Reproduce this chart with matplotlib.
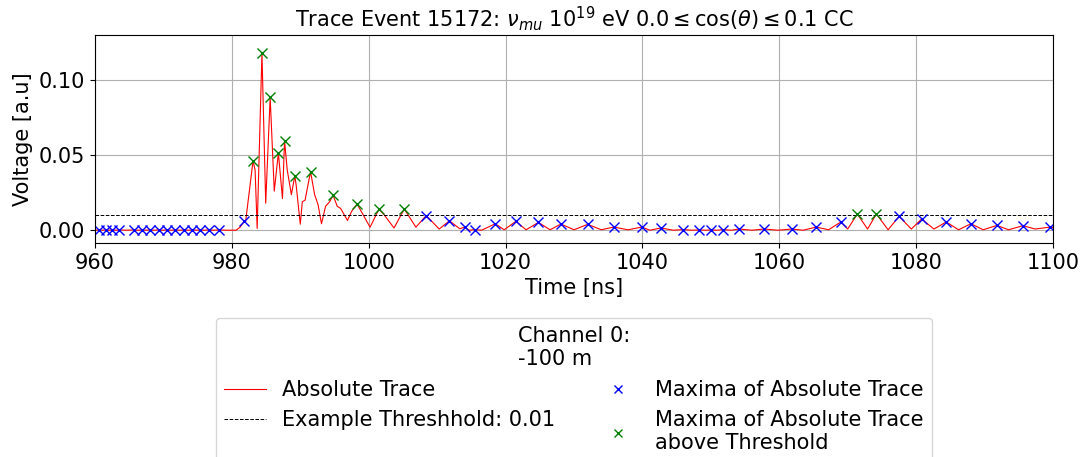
from matplotlib import pyplot as plt
import numpy as np

threshold = 0.01

# local maxima of the absolute trace (time in ns, voltage in a.u.)
max_time = [960.6, 961.6, 962.5, 963.5, 965.7, 966.9, 968.0, 969.3, 970.5, 971.7,
            973.0, 974.2, 975.3, 976.6, 978.1,
            981.8, 983.1, 984.4, 985.6, 986.8, 987.7, 989.2, 991.5, 994.8, 998.3,
            1001.5, 1005.2, 1008.4, 1011.8, 1014.0, 1015.5, 1018.5, 1021.5, 1024.8,
            1028.1, 1032.0, 1035.8, 1039.9, 1042.7, 1046.0, 1048.3, 1050.0, 1051.8,
            1054.1, 1057.8, 1061.8, 1065.4, 1069.0, 1071.4, 1074.2, 1077.5, 1080.8,
            1084.4, 1088.0, 1091.8, 1095.6, 1099.6]
max_volt = [0.0002, 0.0002, 0.0002, 0.0002, 0.0002, 0.0002, 0.0002, 0.0002, 0.0002, 0.0002,
            0.0002, 0.0002, 0.0002, 0.0002, 0.0002,
            0.0059, 0.0463, 0.118, 0.0886, 0.0515, 0.0597, 0.0363, 0.039, 0.0232, 0.0175,
            0.0141, 0.0141, 0.0098, 0.0063, 0.0020, 0.0004, 0.0043, 0.0059, 0.0052,
            0.0041, 0.0039, 0.0021, 0.0021, 0.0015, 0.0004, 0.0002, 0.0002, 0.0004,
            0.0008, 0.0008, 0.0008, 0.0021, 0.0055, 0.0108, 0.0108, 0.0092, 0.0075,
            0.0055, 0.0043, 0.0032, 0.0030, 0.0021]

# remaining samples of the trace (minima and shoulders)
dip_time = [960.0, 961.1, 962.05, 963.0, 964.6, 966.3, 967.45, 968.65, 969.9, 971.1,
            972.35, 973.6, 974.75, 975.95, 977.3, 979.3, 980.6, 981.2, 982.0,
            983.4, 983.7, 984.95, 986.2, 987.4, 988.1, 988.7, 989.4, 990.0, 990.3,
            990.7, 992.1, 992.6, 993.1, 993.7, 994.3, 995.4, 995.9, 996.9, 997.5,
            1000.2, 1002.3, 1003.7, 1006.9, 1010.3, 1013.3, 1014.7, 1016.5, 1019.8,
            1023.0, 1026.5, 1030.0, 1034.0, 1037.9, 1041.1, 1044.5, 1047.2, 1049.2,
            1050.9, 1053.0, 1056.0, 1059.8, 1063.5, 1067.2, 1070.0, 1072.9, 1075.9,
            1079.3, 1082.6, 1086.2, 1089.8, 1093.5, 1097.4, 1100.5]
dip_volt = [0.0, 0.0, 0.0, 0.0, 0.0, 0.0, 0.0, 0.0, 0.0, 0.0,
            0.0, 0.0, 0.0, 0.0, 0.0, 0.0, 0.0, 0.002, 0.0052,
            0.040, 0.0012, 0.018, 0.026, 0.021, 0.040, 0.0237, 0.030, 0.004, 0.019,
            0.020, 0.0237, 0.017, 0.0043, 0.016, 0.019, 0.016, 0.0145, 0.0065, 0.0125,
            0.002, 0.010, 0.0015, 0.002, 0.0008, 0.001, 0.0, 0.0, 0.0003,
            0.0003, 0.0003, 0.0003, 0.0003, 0.0003, 0.0, 0.0, 0.0, 0.0,
            0.0, 0.0, 0.0, 0.0, 0.0, 0.0003, 0.0008, 0.0008, 0.0003,
            0.0008, 0.0008, 0.0003, 0.0003, 0.0003, 0.0008, 0.0015]


def plot_trace():
    t = np.concatenate([max_time, dip_time])
    v = np.concatenate([max_volt, dip_volt])
    order = np.argsort(t)

    max_t = np.array(max_time)
    max_v = np.array(max_volt)
    above = max_v > threshold

    plt.rcParams['font.size'] = 15
    fig = plt.figure(figsize=(10.83, 4.57), dpi=100)
    ax = fig.add_axes([0.0877, 0.4683, 0.8846, 0.4551])

    ax.plot(t[order], v[order], color='red', lw=0.8, label='Absolute Trace')
    ax.axhline(threshold, color='black', ls='--', lw=0.7,
               label='Example Threshhold: ' + str(threshold))
    ax.plot(max_t[~above], max_v[~above], 'x', color='blue', ms=7,
            label='Maxima of Absolute Trace')
    ax.plot(max_t[above], max_v[above], 'x', color='green', ms=7,
            label='Maxima of Absolute Trace\nabove Threshold')

    ax.set_xlim(960, 1100)
    ax.set_ylim(-0.0085, 0.13)
    ax.set_xticks(np.arange(960, 1101, 20))
    ax.set_yticks([0.0, 0.05, 0.10])
    ax.grid(True)

    ax.set_xlabel('Time [ns]')
    ax.set_ylabel('Voltage [a.u]')
    ax.set_title(r'Trace Event 15172: $\nu_{mu}$ $10^{19}$ eV '
                 r'$0.0 \leq \cos(\theta) \leq 0.1$ CC', fontsize=15)

    ax.legend(title='Channel 0:\n-100 m', ncol=2, loc='upper center',
              bbox_to_anchor=(0.5, -0.31), fontsize=15, title_fontsize=15,
              markerscale=0.85)

    plt.savefig('out.png')


plot_trace()
